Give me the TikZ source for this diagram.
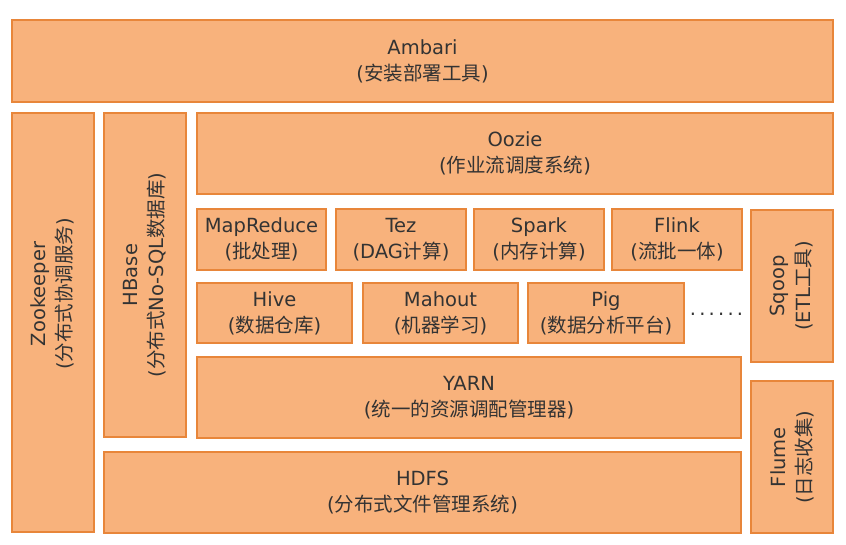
\documentclass[tikz,border=0pt]{standalone}
\usepackage{fontspec}
\setmainfont{DejaVu Sans}
\newfontfamily\cjk{Noto Sans CJK SC}
\newcommand{\zh}[1]{{\cjk #1}}
\usepackage{tikz}
\usetikzlibrary{positioning}
\definecolor{boxfill}{HTML}{F8B27C}
\definecolor{boxline}{HTML}{E8863A}
\definecolor{boxtext}{HTML}{333333}

\begin{document}
\begin{tikzpicture}[x=1pt, y=-1pt,
        blk/.style={draw=boxline, fill=boxfill, line width=1.6pt, text=boxtext, align=center,
            inner sep=0pt, font=\fontsize{19.5}{26}\selectfont},
        vblk/.style={blk, rotate=90},
        vtxt/.style={text=boxtext, align=center, rotate=90, inner sep=0pt, font=\fontsize{19.5}{26}\selectfont}]
        \useasboundingbox (0,0) rectangle (846,544);

        \node[blk, minimum width=821, minimum height=82] (ambari) at (422.5, 61) {Ambari\\(\zh{安装部署工具})};
        \node[vblk, minimum width=419, minimum height=82] (zookeeper) at (53, 322.5) {};
        \node[vtxt] (zookeepertext) at (52, 294) {Zookeeper\\(\zh{分布式协调服务})};
        \node[vblk, minimum width=324, minimum height=82] (hbase) at (145, 275) {HBase\\(\zh{分布式}No-SQL\zh{数据库})};
        \node[blk, minimum width=636, minimum height=81] (oozie) at (515, 153.5) {Oozie\\(\zh{作业流调度系统})};

        \node[blk, minimum width=129, minimum height=61] (mapreduce) at (261.5, 239.5) {MapReduce\\(\zh{批处理})};
        \node[blk, minimum width=130, minimum height=61] (tez) at (401, 239.5) {Tez\\(DAG\zh{计算})};
        \node[blk, minimum width=130, minimum height=61] (spark) at (539, 239.5) {Spark\\(\zh{内存计算})};
        \node[blk, minimum width=130, minimum height=61] (flink) at (677, 239.5) {Flink\\(\zh{流批一体})};
        \node[vblk, minimum width=152, minimum height=82] (sqoop) at (792, 286) {Sqoop\\(ETL\zh{工具})};

        \node[blk, minimum width=155, minimum height=60] (hive) at (274.5, 313) {Hive\\(\zh{数据仓库})};
        \node[blk, minimum width=155, minimum height=60] (mahout) at (440.5, 313) {Mahout\\(\zh{机器学习})};
        \node[blk, minimum width=156, minimum height=60] (pig) at (606, 313) {Pig\\(\zh{数据分析平台})};
        \node[text=boxtext, font=\fontsize{19.5}{26}\selectfont] (more) at (716.5, 314)
            {.\kern3.2pt.\kern3.2pt.\kern3.2pt.\kern3.2pt.\kern3.2pt.};

        \node[blk, minimum width=544, minimum height=81] (yarn) at (469, 397.5) {YARN\\(\zh{统一的资源调配管理器})};
        \node[vblk, minimum width=152, minimum height=82] (flume) at (792, 457) {Flume\\(\zh{日志收集})};
        \node[blk, minimum width=637, minimum height=81] (hdfs) at (422.5, 492.5) {HDFS\\(\zh{分布式文件管理系统})};
    \end{tikzpicture}
\end{document}
